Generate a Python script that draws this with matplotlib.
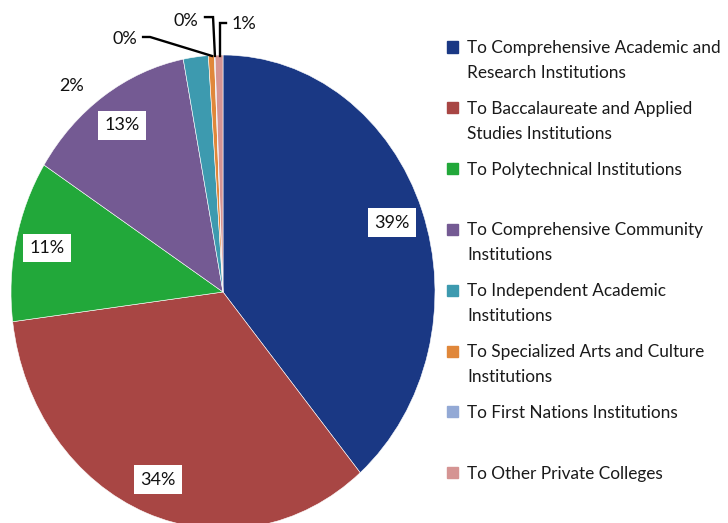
import matplotlib
matplotlib.use("Agg")
import matplotlib.pyplot as plt
from matplotlib.patches import Rectangle
import numpy as np

categories = [
    "To Comprehensive Academic and\nResearch Institutions",
    "To Baccalaureate and Applied\nStudies Institutions",
    "To Polytechnical Institutions",
    "To Comprehensive Community\nInstitutions",
    "To Independent Academic\nInstitutions",
    "To Specialized Arts and Culture\nInstitutions",
    "To First Nations Institutions",
    "To Other Private Colleges",
]
values = [38.8, 34.2, 11.0, 13.0, 1.9, 0.45, 0.05, 0.6]
pct_labels = ["39%", "34%", "11%", "13%", "2%", "0%", "0%", "1%"]
colors = ["#1A3884", "#A84644", "#22A83A", "#745A93", "#3D9AAF",
          "#E0873A", "#93A9D5", "#D59493"]

plt.rcParams['font.family'] = ['Lato', 'DejaVu Sans']

W, H = 728, 523
fig = plt.figure(figsize=(W / 100, H / 100), dpi=100)

# pie axes (elliptical pie): center (223,292), rx 212, ry 237 px
cx, cy, rx, ry = 223, 292, 212, 237
ax = fig.add_axes([(cx - rx) / W, (H - cy - ry) / H, 2 * rx / W, 2 * ry / H])
wedges, _ = ax.pie(values, colors=colors, startangle=90, counterclock=False,
                   radius=1.0, wedgeprops=dict(linewidth=0.4, edgecolor="white"))
ax.set_aspect('auto')
ax.set_xlim(-1, 1)
ax.set_ylim(-1, 1)
ax.axis('off')

fs = 13
for i in range(4):
    w = wedges[i]
    ang = np.deg2rad((w.theta1 + w.theta2) / 2)
    d = 0.85
    ax.text(d * np.cos(ang), d * np.sin(ang), pct_labels[i], ha='center', va='center',
            fontsize=fs, color='#111111',
            bbox=dict(boxstyle='square,pad=0.35', fc='white', ec='none'))

ax.text(-0.712, 0.869, pct_labels[4], ha='center', va='center', fontsize=fs,
        color='#111111', clip_on=False)

def leader(label, tpos, pts):
    ax.text(*tpos, label, ha='center', va='center', fontsize=fs, color='#111111',
            clip_on=False)
    xs, ys = zip(*pts)
    ax.plot(xs, ys, color='black', lw=1.7, clip_on=False, solid_joinstyle='miter')

leader(pct_labels[5], (-0.465, 1.068), [(-0.377, 1.076), (-0.344, 1.076), (-0.052, 0.996)])
leader(pct_labels[6], (-0.175, 1.145), [(-0.085, 1.160), (-0.047, 1.160), (-0.038, 0.996)])
leader(pct_labels[7], (0.10, 1.13), [(0.014, 1.135), (-0.014, 1.135), (-0.014, 0.996)])

# legend
lfs = 12.4
y0, step = 47, 60.8
for i, (lab, col) in enumerate(zip(categories, colors)):
    yc = y0 + i * step
    fig.patches.append(Rectangle(((452 - 5.5) / W, 1 - (yc + 5.5) / H), 11 / W, 11 / H,
                                 transform=fig.transFigure, color=col, figure=fig))
    fig.text(467 / W, 1 - (yc - 7) / H, lab, ha='left', va='top', fontsize=lfs,
             color='#1a1a1a', linespacing=1.7)

fig.savefig("out.png", dpi=100)
